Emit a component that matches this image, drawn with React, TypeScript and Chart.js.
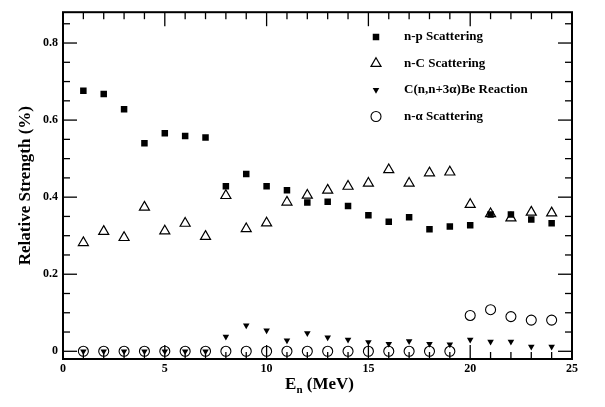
import React, { useEffect, useRef } from 'react';
import { Chart, registerables } from 'chart.js';

Chart.register(...registerables);

// ---- data ----
const energies = [1, 2, 3, 4, 5, 6, 7, 8, 9, 10, 11, 12, 13, 14, 15, 16, 17, 18, 19, 20, 21, 22, 23, 24];
const npScattering = [0.676, 0.668, 0.628, 0.540, 0.566, 0.559, 0.555, 0.428, 0.460, 0.428, 0.418, 0.386, 0.388, 0.377, 0.353, 0.336, 0.348, 0.317, 0.324, 0.327, 0.355, 0.355, 0.342, 0.332];
const nCScattering = [0.282, 0.311, 0.295, 0.374, 0.312, 0.332, 0.298, 0.404, 0.318, 0.333, 0.387, 0.405, 0.418, 0.428, 0.436, 0.471, 0.436, 0.463, 0.465, 0.381, 0.357, 0.346, 0.361, 0.359];
const cReaction = [0, 0, 0, 0, 0, 0, 0, 0.038, 0.067, 0.054, 0.028, 0.047, 0.036, 0.030, 0.024, 0.019, 0.026, 0.019, 0.018, 0.030, 0.025, 0.025, 0.012, 0.012];
const nAlphaScattering = [0, 0, 0, 0, 0, 0, 0, 0, 0, 0, 0, 0, 0, 0, 0, 0, 0, 0, 0, 0.093, 0.108, 0.090, 0.081, 0.081];

const seriesLabels = ['n-p Scattering', 'n-C Scattering', 'C(n,n+3\u03b1)Be Reaction', 'n-\u03b1 Scattering'];
const xTickValues = [0, 5, 10, 15, 20, 25];
const yTickValues = [0, 0.2, 0.4, 0.6, 0.8];
const xTitleMain = 'E';
const xTitleSub = 'n';
const xTitleRest = ' (MeV)';
const yTitle = 'Relative Strength (%)';

const FONT = "'Liberation Serif', 'Times New Roman', serif";

function toPoints(values: number[]) {
  return energies.map((e, i) => ({ x: e, y: values[i] }));
}

function drawMarker(ctx: CanvasRenderingContext2D, kind: number, x: number, y: number) {
  ctx.save();
  ctx.fillStyle = '#000';
  ctx.strokeStyle = '#000';
  ctx.beginPath();
  if (kind === 0) {
    const s = 4.6 * Math.SQRT1_2;
    ctx.rect(x - s, y - s, 2 * s, 2 * s);
    ctx.fill();
  } else if (kind === 1) {
    const r = 5.8;
    for (let k = 0; k < 3; k++) {
      const a = (k * 2 * Math.PI) / 3;
      const px = x + Math.sin(a) * r;
      const py = y - Math.cos(a) * r;
      if (k === 0) ctx.moveTo(px, py);
      else ctx.lineTo(px, py);
    }
    ctx.closePath();
    ctx.lineWidth = 1.2;
    ctx.stroke();
  } else if (kind === 2) {
    const r = 3.8;
    for (let k = 0; k < 3; k++) {
      const a = Math.PI + (k * 2 * Math.PI) / 3;
      const px = x + Math.sin(a) * r;
      const py = y - Math.cos(a) * r;
      if (k === 0) ctx.moveTo(px, py);
      else ctx.lineTo(px, py);
    }
    ctx.closePath();
    ctx.fill();
  } else {
    ctx.arc(x, y, 5, 0, Math.PI * 2);
    ctx.lineWidth = 1.1;
    ctx.stroke();
  }
  ctx.restore();
}

const decorPlugin = {
  id: 'decor',
  afterDraw(chart: any) {
    const { ctx, chartArea: a, scales } = chart;
    const xs = scales.x;
    const ys = scales.y;
    ctx.save();
    ctx.strokeStyle = '#000';
    ctx.lineWidth = 1.3;
    const line = (x1: number, y1: number, x2: number, y2: number) => {
      ctx.beginPath();
      ctx.moveTo(x1, y1);
      ctx.lineTo(x2, y2);
      ctx.stroke();
    };
    // x ticks (minor every 1, major every 5), all four sides inward
    for (let v = 0; v <= 25; v += 1) {
      const px = xs.getPixelForValue(v);
      const len = v % 5 === 0 ? 14 : 7;
      line(px, a.bottom, px, a.bottom - len);
      line(px, a.top, px, a.top + len);
    }
    for (let i = 0; i <= 17; i++) {
      const py = ys.getPixelForValue(i * 0.05);
      const len = i % 4 === 0 ? 14 : 7;
      line(a.left, py, a.left + len, py);
      line(a.right, py, a.right - len, py);
    }
    // frame
    ctx.lineWidth = 2;
    ctx.strokeRect(a.left, a.top, a.right - a.left, a.bottom - a.top);

    // legend
    const rowsY = [37, 63.5, 90, 116.5];
    ctx.fillStyle = '#000';
    ctx.font = `bold 13px ${FONT}`;
    ctx.textBaseline = 'middle';
    ctx.textAlign = 'left';
    seriesLabels.forEach((label, i) => {
      drawMarker(ctx, i, 376, rowsY[i]);
      ctx.fillStyle = '#000';
      ctx.font = `bold 13px ${FONT}`;
      ctx.fillText(label, 404, rowsY[i]);
    });

    // x-axis title with subscript
    const mainFont = `bold 17px ${FONT}`;
    const subFont = `bold 11px ${FONT}`;
    ctx.font = mainFont;
    const wE = ctx.measureText(xTitleMain).width;
    const wRest = ctx.measureText(xTitleRest).width;
    ctx.font = subFont;
    const wSub = ctx.measureText(xTitleSub).width;
    const total = wE + wSub + wRest;
    const cx = (a.left + a.right) / 2 + 2;
    let x0 = cx - total / 2;
    const ty = 385;
    ctx.textBaseline = 'middle';
    ctx.font = mainFont;
    ctx.fillText(xTitleMain, x0, ty);
    x0 += wE;
    ctx.font = subFont;
    ctx.fillText(xTitleSub, x0, ty + 5);
    x0 += wSub;
    ctx.font = mainFont;
    ctx.fillText(xTitleRest, x0, ty);
    ctx.restore();
  },
};

export default function App() {
  const canvasRef = useRef<HTMLCanvasElement | null>(null);

  useEffect(() => {
    if (!canvasRef.current) return;
    Chart.defaults.font.family = FONT;
    const chart = new Chart(canvasRef.current, {
      type: 'scatter',
      data: {
        datasets: [
          {
            label: seriesLabels[0],
            data: toPoints(npScattering),
            pointStyle: 'rect',
            pointRadius: 4.6,
            pointBackgroundColor: '#000',
            pointBorderColor: '#000',
            pointBorderWidth: 0,
            showLine: false,
          },
          {
            label: seriesLabels[1],
            data: toPoints(nCScattering),
            pointStyle: 'triangle',
            pointRadius: 5.8,
            pointBackgroundColor: 'rgba(0,0,0,0)',
            pointBorderColor: '#000',
            pointBorderWidth: 1.2,
            showLine: false,
          },
          {
            label: seriesLabels[2],
            data: toPoints(cReaction),
            pointStyle: 'triangle',
            pointRotation: 180,
            pointRadius: 3.8,
            pointBackgroundColor: '#000',
            pointBorderColor: '#000',
            pointBorderWidth: 0,
            showLine: false,
          },
          {
            label: seriesLabels[3],
            data: toPoints(nAlphaScattering),
            pointStyle: 'circle',
            pointRadius: 5,
            pointBackgroundColor: 'rgba(0,0,0,0)',
            pointBorderColor: '#000',
            pointBorderWidth: 1.1,
            showLine: false,
          },
        ],
      },
      options: {
        animation: false,
        responsive: true,
        maintainAspectRatio: false,
        events: [],
        layout: { padding: { top: 8, right: 33, left: 0, bottom: 0 }, autoPadding: false },
        plugins: {
          legend: { display: false },
          tooltip: { enabled: false },
        },
        scales: {
          x: {
            type: 'linear',
            min: 0,
            max: 25,
            grid: { display: false, drawTicks: false },
            border: { display: false },
            ticks: {
              color: '#000',
              padding: 3,
              font: { family: FONT, size: 12, weight: 'bold' },
              callback: (v: any) => String(v),
            },
            afterBuildTicks: (scale: any) => {
              scale.ticks = xTickValues.map((v) => ({ value: v }));
            },
            afterFit: (scale: any) => {
              scale.height = 48;
            },
            title: { display: false },
          },
          y: {
            type: 'linear',
            min: -0.02,
            max: 0.88,
            grid: { display: false, drawTicks: false },
            border: { display: false },
            ticks: {
              color: '#000',
              padding: 5,
              font: { family: FONT, size: 12, weight: 'bold' },
              callback: (v: any) => String(v),
            },
            afterBuildTicks: (scale: any) => {
              scale.ticks = yTickValues.map((v) => ({ value: v }));
            },
            afterFit: (scale: any) => {
              scale.width = 63;
            },
            title: {
              display: true,
              text: yTitle,
              color: '#000',
              font: { family: FONT, size: 17, weight: 'bold' },
              padding: { top: 15, bottom: 0 },
            },
          },
        },
      },
      plugins: [decorPlugin],
    } as any);
    return () => chart.destroy();
  }, []);

  return (
    <div style={{ position: 'fixed', left: 0, top: 0, width: 605, height: 407, background: '#fff' }}>
      <canvas ref={canvasRef} />
    </div>
  );
}
